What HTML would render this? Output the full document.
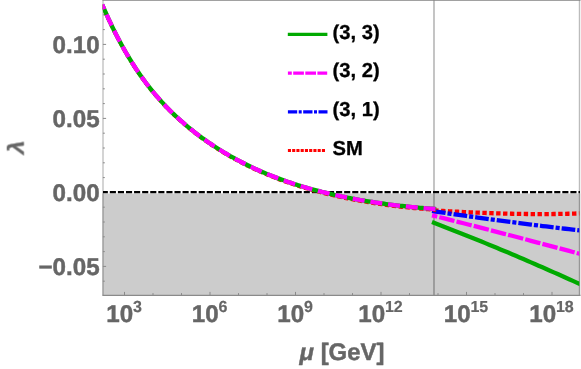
<!DOCTYPE html>
<html><head><meta charset="utf-8"><title>plot</title>
<style>
html,body{margin:0;padding:0;background:#fff;}
body{width:581px;height:369px;overflow:hidden;}
svg{display:block;}
text{font-family:"Liberation Sans",sans-serif;font-weight:bold;text-rendering:geometricPrecision;}
.tk{font-size:24.2px;fill:#666;stroke:#666;stroke-width:0.45px;stroke-linejoin:round;}
.lg{font-size:20.2px;fill:#000;stroke:#000;stroke-width:0.3px;stroke-linejoin:round;}
</style></head><body>
<svg width="581" height="369" viewBox="0 0 581 369">
<rect width="581" height="369" fill="#fff"/>
<!-- threshold grid line -->
<line x1="434" y1="0" x2="434" y2="295.5" stroke="#b6b6b6" stroke-width="1.6"/>
<line x1="103" y1="0" x2="103" y2="296" stroke="#c2c2c2" stroke-width="1.4"/>
<line x1="579.5" y1="0" x2="579.5" y2="296" stroke="#bcbcbc" stroke-width="1.4"/>
<!-- shaded negative region -->
<rect x="102.3" y="193.5" width="477.9" height="101.5" fill="#000" fill-opacity="0.2"/>
<!-- frame -->
<g fill="none">
<line x1="102.5" y1="295.45" x2="580.5" y2="295.45" stroke="#8a8a8a" stroke-width="1.2"/>
<line x1="102.5" y1="0.1" x2="580.5" y2="0.1" stroke="#828282" stroke-width="1.5"/>
</g>
<g stroke="#8a8a8a" stroke-width="1" fill="none">
<line x1="102.9" y1="281.2" x2="104.8" y2="281.2"/>
<line x1="102.9" y1="266.4" x2="106.1" y2="266.4"/>
<line x1="102.9" y1="251.6" x2="104.8" y2="251.6"/>
<line x1="102.9" y1="236.8" x2="104.8" y2="236.8"/>
<line x1="102.9" y1="222.0" x2="104.8" y2="222.0"/>
<line x1="102.9" y1="207.2" x2="104.8" y2="207.2"/>
<line x1="102.9" y1="192.4" x2="106.1" y2="192.4"/>
<line x1="102.9" y1="177.6" x2="104.8" y2="177.6"/>
<line x1="102.9" y1="162.8" x2="104.8" y2="162.8"/>
<line x1="102.9" y1="148.0" x2="104.8" y2="148.0"/>
<line x1="102.9" y1="133.2" x2="104.8" y2="133.2"/>
<line x1="102.9" y1="118.4" x2="106.1" y2="118.4"/>
<line x1="102.9" y1="103.6" x2="104.8" y2="103.6"/>
<line x1="102.9" y1="88.8" x2="104.8" y2="88.8"/>
<line x1="102.9" y1="74.0" x2="104.8" y2="74.0"/>
<line x1="102.9" y1="59.2" x2="104.8" y2="59.2"/>
<line x1="102.9" y1="44.4" x2="106.1" y2="44.4"/>
<line x1="102.9" y1="29.6" x2="104.8" y2="29.6"/>
<line x1="102.9" y1="14.8" x2="104.8" y2="14.8"/>
<line x1="124.5" y1="295" x2="124.5" y2="291.9"/>
<line x1="153.0" y1="295" x2="153.0" y2="293.1"/>
<line x1="181.5" y1="295" x2="181.5" y2="293.1"/>
<line x1="210.0" y1="295" x2="210.0" y2="291.9"/>
<line x1="238.5" y1="295" x2="238.5" y2="293.1"/>
<line x1="267.0" y1="295" x2="267.0" y2="293.1"/>
<line x1="295.5" y1="295" x2="295.5" y2="291.9"/>
<line x1="324.0" y1="295" x2="324.0" y2="293.1"/>
<line x1="352.5" y1="295" x2="352.5" y2="293.1"/>
<line x1="381.0" y1="295" x2="381.0" y2="291.9"/>
<line x1="409.5" y1="295" x2="409.5" y2="293.1"/>
<line x1="438.0" y1="295" x2="438.0" y2="293.1"/>
<line x1="466.5" y1="295" x2="466.5" y2="291.9"/>
<line x1="495.0" y1="295" x2="495.0" y2="293.1"/>
<line x1="523.5" y1="295" x2="523.5" y2="293.1"/>
<line x1="552.0" y1="295" x2="552.0" y2="291.9"/>
</g>
<!-- zero line -->
<line x1="103" y1="192.2" x2="580" y2="192.2" stroke="#000" stroke-width="2.2" stroke-dasharray="6.1 1.98" stroke-dashoffset="1.25"/>
<clipPath id="cp"><rect x="102.7" y="0" width="476.6" height="295.4"/></clipPath>
<g fill="none" stroke-linejoin="round" clip-path="url(#cp)">
<!-- post-threshold -->
<path d="M434.1,210.48 L437.1,210.64 L440.1,210.81 L443.1,210.97 L446.1,211.13 L449.0,211.28 L452.0,211.44 L455.0,211.59 L458.0,211.74 L461.0,211.88 L464.0,212.03 L467.0,212.17 L470.0,212.30 L472.9,212.43 L475.9,212.56 L478.9,212.69 L481.9,212.81 L484.9,212.92 L487.9,213.04 L490.9,213.14 L493.9,213.24 L496.8,213.34 L499.8,213.43 L502.8,213.52 L505.8,213.60 L508.8,213.68 L511.8,213.75 L514.8,213.81 L517.8,213.87 L520.7,213.92 L523.7,213.96 L526.7,214.00 L529.7,214.03 L532.7,214.06 L535.7,214.07 L538.7,214.08 L541.7,214.09 L544.6,214.08 L547.6,214.07 L550.6,214.05 L553.6,214.02 L556.6,213.98 L559.6,213.93 L562.6,213.88 L565.6,213.82 L568.5,213.74 L571.5,213.66 L574.5,213.57 L577.5,213.47 L580.5,213.36" stroke="#ff0000" stroke-width="4.3" stroke-dasharray="4.4 2.5"/>
<path d="M432.0,210.98 L435.8,211.55 L439.6,212.11 L443.4,212.67 L447.2,213.23 L451.0,213.78 L454.8,214.33 L458.7,214.88 L462.5,215.42 L466.3,215.96 L470.1,216.50 L473.9,217.03 L477.7,217.56 L481.5,218.09 L485.3,218.61 L489.1,219.13 L492.9,219.64 L496.7,220.15 L500.5,220.66 L504.3,221.16 L508.2,221.66 L512.0,222.16 L515.8,222.65 L519.6,223.14 L523.4,223.63 L527.2,224.11 L531.0,224.59 L534.8,225.07 L538.6,225.54 L542.4,226.01 L546.2,226.47 L550.0,226.93 L553.8,227.39 L557.7,227.85 L561.5,228.30 L565.3,228.74 L569.1,229.19 L572.9,229.63 L576.7,230.06 L580.5,230.50" stroke="#0000ff" stroke-width="4.3" stroke-dasharray="13.7 2 4.1 2" stroke-dashoffset="0"/>
<path d="M432.0,215.32 L435.8,216.27 L439.6,217.23 L443.4,218.19 L447.2,219.15 L451.0,220.11 L454.8,221.08 L458.7,222.04 L462.5,223.01 L466.3,223.98 L470.1,224.96 L473.9,225.93 L477.7,226.91 L481.5,227.89 L485.3,228.87 L489.1,229.85 L492.9,230.84 L496.7,231.82 L500.5,232.81 L504.3,233.80 L508.2,234.80 L512.0,235.79 L515.8,236.79 L519.6,237.79 L523.4,238.79 L527.2,239.79 L531.0,240.80 L534.8,241.80 L538.6,242.81 L542.4,243.82 L546.2,244.83 L550.0,245.85 L553.8,246.86 L557.7,247.88 L561.5,248.90 L565.3,249.92 L569.1,250.95 L572.9,251.98 L576.7,253.00 L580.5,254.03" stroke="#ff00ff" stroke-width="4.3" stroke-dasharray="15.6 2.15" stroke-dashoffset="10.2"/>
<path d="M432.0,222.04 L435.8,223.49 L439.6,224.96 L443.4,226.43 L447.2,227.91 L451.0,229.40 L454.8,230.90 L458.7,232.40 L462.5,233.91 L466.3,235.43 L470.1,236.95 L473.9,238.48 L477.7,240.02 L481.5,241.57 L485.3,243.12 L489.1,244.69 L492.9,246.25 L496.7,247.83 L500.5,249.41 L504.3,251.01 L508.2,252.60 L512.0,254.21 L515.8,255.82 L519.6,257.44 L523.4,259.07 L527.2,260.71 L531.0,262.35 L534.8,264.00 L538.6,265.66 L542.4,267.32 L546.2,269.00 L550.0,270.68 L553.8,272.36 L557.7,274.06 L561.5,275.76 L565.3,277.47 L569.1,279.19 L572.9,280.91 L576.7,282.64 L580.5,284.38" stroke="#00aa00" stroke-width="4.3"/>
<!-- pre-threshold common running -->
<path d="M102.2,4.77 L104.2,9.45 L106.2,14.00 L108.2,18.43 L110.2,22.74 L112.2,26.93 L114.2,31.02 L116.2,35.00 L118.2,38.87 L120.2,42.64 L122.2,46.31 L124.2,49.88 L126.2,53.36 L128.2,56.75 L130.2,60.05 L132.2,63.27 L134.2,66.40 L136.2,69.45 L138.2,72.42 L140.2,75.32 L142.2,78.15 L144.2,80.90 L146.2,83.58 L148.2,86.20 L150.2,88.76 L152.2,91.25 L154.2,93.68 L156.2,96.06 L158.2,98.37 L160.2,100.64 L162.2,102.85 L164.2,105.01 L166.2,107.12 L168.2,109.19 L170.2,111.21 L172.2,113.18 L174.2,115.12 L176.2,117.01 L178.2,118.86 L180.2,120.68 L182.2,122.46 L184.2,124.20 L186.2,125.91 L188.2,127.59 L190.2,129.23 L192.2,130.84 L194.2,132.43 L196.2,133.98 L198.2,135.51 L200.2,137.00 L202.2,138.48 L204.2,139.92 L206.2,141.35 L208.2,142.74 L210.2,144.12 L212.2,145.47 L214.2,146.79 L216.2,148.10 L218.2,149.38 L220.2,150.64 L222.2,151.88 L224.2,153.10 L226.2,154.30 L228.2,155.48 L230.2,156.64 L232.2,157.77 L234.2,158.89 L236.2,159.99 L238.2,161.07 L240.2,162.14 L242.2,163.18 L244.2,164.20 L246.2,165.21 L248.2,166.20 L250.2,167.18 L252.2,168.13 L254.2,169.07 L256.2,170.00 L258.2,170.90 L260.2,171.79 L262.2,172.67 L264.2,173.53 L266.2,174.38 L268.2,175.21 L270.2,176.02 L272.2,176.82 L274.2,177.61 L276.2,178.39 L278.2,179.15 L280.2,179.89 L282.2,180.63 L284.2,181.35 L286.2,182.06 L288.2,182.75 L290.2,183.43 L292.2,184.10 L294.2,184.76 L296.2,185.41 L298.2,186.05 L300.2,186.67 L302.2,187.28 L304.2,187.89 L306.2,188.48 L308.2,189.06 L310.2,189.63 L312.2,190.19 L314.2,190.74 L316.2,191.28 L318.2,191.81 L320.2,192.33 L322.2,192.85 L324.2,193.35 L326.2,193.84 L328.2,194.33 L330.2,194.80 L332.2,195.27 L334.2,195.73 L336.2,196.18 L338.2,196.62 L340.2,197.06 L342.2,197.49 L344.2,197.90 L346.2,198.32 L348.2,198.72 L350.2,199.12 L352.2,199.50 L354.2,199.89 L356.2,200.26 L358.2,200.63 L360.2,200.99 L362.2,201.34 L364.2,201.69 L366.2,202.03 L368.2,202.36 L370.2,202.69 L372.2,203.01 L374.2,203.33 L376.2,203.63 L378.2,203.94 L380.2,204.23 L382.2,204.52 L384.2,204.80 L386.2,205.08 L388.2,205.34 L390.2,205.60 L392.2,205.86 L394.2,206.11 L396.2,206.35 L398.2,206.59 L400.2,206.82 L402.2,207.05 L404.2,207.27 L406.2,207.49 L408.2,207.70 L410.2,207.90 L412.2,208.10 L414.2,208.29 L416.2,208.48 L418.2,208.67 L420.2,208.84 L422.2,209.02 L424.2,209.18 L426.2,209.34 L428.2,209.50 L430.2,209.65 L432.2,209.79 L434.2,209.93 L436.2,210.07" stroke="#ff0000" stroke-width="3.7" stroke-dasharray="4.4 2.5"/>
<path d="M102.2,4.48 L104.2,9.14 L106.2,13.69 L108.2,18.11 L110.2,22.42 L112.2,26.61 L114.2,30.69 L116.2,34.66 L118.2,38.53 L120.2,42.29 L122.2,45.96 L124.2,49.53 L126.2,53.00 L128.2,56.38 L130.2,59.68 L132.2,62.89 L134.2,66.02 L136.2,69.06 L138.2,72.03 L140.2,74.92 L142.2,77.74 L144.2,80.49 L146.2,83.17 L148.2,85.78 L150.2,88.33 L152.2,90.82 L154.2,93.25 L156.2,95.61 L158.2,97.93 L160.2,100.19 L162.2,102.39 L164.2,104.55 L166.2,106.65 L168.2,108.71 L170.2,110.73 L172.2,112.70 L174.2,114.63 L176.2,116.52 L178.2,118.36 L180.2,120.17 L182.2,121.95 L184.2,123.68 L186.2,125.39 L188.2,127.06 L190.2,128.70 L192.2,130.30 L194.2,131.88 L196.2,133.43 L198.2,134.95 L200.2,136.44 L202.2,137.91 L204.2,139.35 L206.2,140.77 L208.2,142.16 L210.2,143.53 L212.2,144.87 L214.2,146.20 L216.2,147.50 L218.2,148.77 L220.2,150.03 L222.2,151.26 L224.2,152.48 L226.2,153.67 L228.2,154.84 L230.2,156.00 L232.2,157.13 L234.2,158.24 L236.2,159.34 L238.2,160.41 L240.2,161.47 L242.2,162.51 L244.2,163.53 L246.2,164.53 L248.2,165.51 L250.2,166.48 L252.2,167.43 L254.2,168.37 L256.2,169.29 L258.2,170.19 L260.2,171.07 L262.2,171.94 L264.2,172.80 L266.2,173.64 L268.2,174.46 L270.2,175.28 L272.2,176.07 L274.2,176.85 L276.2,177.62 L278.2,178.38 L280.2,179.12 L282.2,179.85 L284.2,180.56 L286.2,181.26 L288.2,181.95 L290.2,182.63 L292.2,183.30 L294.2,183.95 L296.2,184.59 L298.2,185.22 L300.2,185.84 L302.2,186.45 L304.2,187.05 L306.2,187.63 L308.2,188.21 L310.2,188.77 L312.2,189.33 L314.2,189.88 L316.2,190.41 L318.2,190.94 L320.2,191.45 L322.2,191.96 L324.2,192.46 L326.2,192.95 L328.2,193.42 L330.2,193.90 L332.2,194.36 L334.2,194.81 L336.2,195.26 L338.2,195.69 L340.2,196.12 L342.2,196.55 L344.2,196.96 L346.2,197.36 L348.2,197.76 L350.2,198.15 L352.2,198.54 L354.2,198.91 L356.2,199.28 L358.2,199.64 L360.2,200.00 L362.2,200.35 L364.2,200.69 L366.2,201.02 L368.2,201.35 L370.2,201.67 L372.2,201.99 L374.2,202.30 L376.2,202.60 L378.2,202.90 L380.2,203.19 L382.2,203.47 L384.2,203.75 L386.2,204.03 L388.2,204.29 L390.2,204.55 L392.2,204.81 L394.2,205.06 L396.2,205.30 L398.2,205.54 L400.2,205.77 L402.2,206.00 L404.2,206.22 L406.2,206.44 L408.2,206.65 L410.2,206.85 L412.2,207.05 L414.2,207.24 L416.2,207.43 L418.2,207.62 L420.2,207.79 L422.2,207.97 L424.2,208.13 L426.2,208.29 L428.2,208.45 L430.2,208.60 L432.2,208.74 L434.2,208.88 L436.2,209.02" stroke="#00aa00" stroke-width="4.3"/>
<path d="M102.2,4.48 L104.2,9.14 L106.2,13.69 L108.2,18.11 L110.2,22.42 L112.2,26.61 L114.2,30.69 L116.2,34.66 L118.2,38.53 L120.2,42.29 L122.2,45.96 L124.2,49.53 L126.2,53.00 L128.2,56.38 L130.2,59.68 L132.2,62.89 L134.2,66.02 L136.2,69.06 L138.2,72.03 L140.2,74.92 L142.2,77.74 L144.2,80.49 L146.2,83.17 L148.2,85.78 L150.2,88.33 L152.2,90.82 L154.2,93.25 L156.2,95.61 L158.2,97.93 L160.2,100.19 L162.2,102.39 L164.2,104.55 L166.2,106.65 L168.2,108.71 L170.2,110.73 L172.2,112.70 L174.2,114.63 L176.2,116.52 L178.2,118.36 L180.2,120.17 L182.2,121.95 L184.2,123.68 L186.2,125.39 L188.2,127.06 L190.2,128.70 L192.2,130.30 L194.2,131.88 L196.2,133.43 L198.2,134.95 L200.2,136.44 L202.2,137.91 L204.2,139.35 L206.2,140.77 L208.2,142.16 L210.2,143.53 L212.2,144.87 L214.2,146.20 L216.2,147.50 L218.2,148.77 L220.2,150.03 L222.2,151.26 L224.2,152.48 L226.2,153.67 L228.2,154.84 L230.2,156.00 L232.2,157.13 L234.2,158.24 L236.2,159.34 L238.2,160.41 L240.2,161.47 L242.2,162.51 L244.2,163.53 L246.2,164.53 L248.2,165.51 L250.2,166.48 L252.2,167.43 L254.2,168.37 L256.2,169.29 L258.2,170.19 L260.2,171.07 L262.2,171.94 L264.2,172.80 L266.2,173.64 L268.2,174.46 L270.2,175.28 L272.2,176.07 L274.2,176.85 L276.2,177.62 L278.2,178.38 L280.2,179.12 L282.2,179.85 L284.2,180.56 L286.2,181.26 L288.2,181.95 L290.2,182.63 L292.2,183.30 L294.2,183.95 L296.2,184.59 L298.2,185.22 L300.2,185.84 L302.2,186.45 L304.2,187.05 L306.2,187.63 L308.2,188.21 L310.2,188.77 L312.2,189.33 L314.2,189.88 L316.2,190.41 L318.2,190.94 L320.2,191.45 L322.2,191.96 L324.2,192.46 L326.2,192.95 L328.2,193.42 L330.2,193.90 L332.2,194.36 L334.2,194.81 L336.2,195.26 L338.2,195.69 L340.2,196.12 L342.2,196.55 L344.2,196.96 L346.2,197.36 L348.2,197.76 L350.2,198.15 L352.2,198.54 L354.2,198.91 L356.2,199.28 L358.2,199.64 L360.2,200.00 L362.2,200.35 L364.2,200.69 L366.2,201.02 L368.2,201.35 L370.2,201.67 L372.2,201.99 L374.2,202.30 L376.2,202.60 L378.2,202.90 L380.2,203.19 L382.2,203.47 L384.2,203.75 L386.2,204.03 L388.2,204.29 L390.2,204.55 L392.2,204.81 L394.2,205.06 L396.2,205.30 L398.2,205.54 L400.2,205.77 L402.2,206.00 L404.2,206.22 L406.2,206.44 L408.2,206.65 L410.2,206.85 L412.2,207.05 L414.2,207.24 L416.2,207.43 L418.2,207.62 L420.2,207.79 L422.2,207.97 L424.2,208.13 L426.2,208.29 L428.2,208.45 L430.2,208.60 L432.2,208.74 L434.2,208.88 L436.2,209.02" stroke="#ff00ff" stroke-width="4.3" stroke-dasharray="12 5.87" stroke-dashoffset="6.8"/>
</g>
<!-- tick labels (group opacity forces grayscale AA) -->
<g opacity="0.999">
<g class="tk" text-anchor="end">
<text x="99.6" y="53.2">0.10</text>
<text x="99.6" y="127.2">0.05</text>
<text x="99.6" y="201.2">0.00</text>
<text x="99.6" y="275.2">&#8722;0.05</text>
</g>
<g class="tk">
<text x="106.2" y="321.9">10<tspan font-size="16" dx="-0.2" dy="-9.9" stroke-width="0.2">3</tspan></text>
<text x="191.7" y="321.9">10<tspan font-size="16" dx="-0.2" dy="-9.9" stroke-width="0.2">6</tspan></text>
<text x="277.2" y="321.9">10<tspan font-size="16" dx="-0.2" dy="-9.9" stroke-width="0.2">9</tspan></text>
<text x="358.2" y="321.9">10<tspan font-size="16" dx="-0.2" dy="-9.9" stroke-width="0.2">12</tspan></text>
<text x="443.7" y="321.9">10<tspan font-size="16" dx="-0.2" dy="-9.9" stroke-width="0.2">15</tspan></text>
<text x="529.2" y="321.9">10<tspan font-size="16" dx="-0.2" dy="-9.9" stroke-width="0.2">18</tspan></text>
</g>
<text class="tk" x="299.6" y="360.3" style="font-size:23.9px"><tspan font-style="italic">&#956;</tspan> [GeV]</text>
<text class="tk" font-style="italic" style="font-size:22.6px;stroke-width:0.3px" transform="translate(23.7,154.2) rotate(-90) scale(1.1,1)">&#955;</text>
<!-- legend -->
<g fill="none" stroke-width="3.2">
<line x1="287.8" y1="34.3" x2="327.4" y2="34.3" stroke="#00aa00"/>
<line x1="287.9" y1="73.1" x2="327.2" y2="73.1" stroke="#ff00ff" stroke-dasharray="10.7 1.4" stroke-dashoffset="6.8"/>
<line x1="287.9" y1="111.8" x2="327.5" y2="111.8" stroke="#0000ff" stroke-dasharray="9.3 1.5 3 1.5"/>
<line x1="287.9" y1="150.5" x2="325" y2="150.5" stroke="#ff0000" stroke-dasharray="3.1 1.15"/>
</g>
<g class="lg">
<text x="332.5" y="38.5">(3, 3)</text>
<text x="332.5" y="77.2">(3, 2)</text>
<text x="332.5" y="115.9">(3, 1)</text>
<text x="332.5" y="154.6">SM</text>
</g>
</g>
</svg>
</body></html>
